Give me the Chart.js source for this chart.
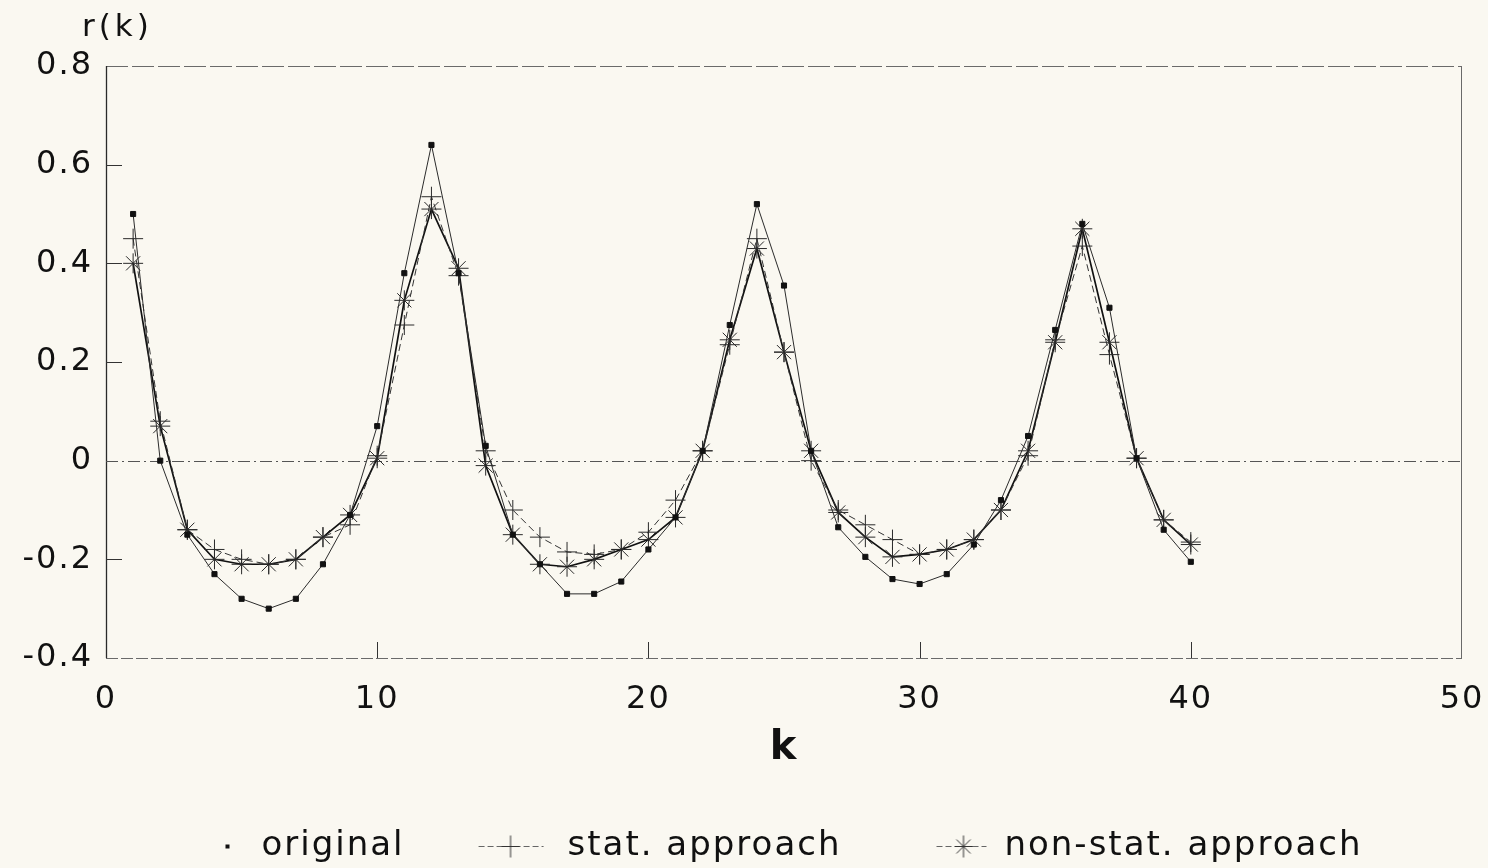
<!DOCTYPE html>
<html>
<head>
<meta charset="utf-8">
<script src="https://cdn.jsdelivr.net/npm/chart.js@4.4.1/dist/chart.umd.min.js"></script>
<style>
  html, body { margin: 0; padding: 0; background: #faf8f1; }
  canvas { display: block; }
</style>
</head>
<body>
<canvas id="c" width="1488" height="868"></canvas>
<script>
// ---------------- data ----------------
const lags = [1, 2, 3, 4, 5, 6, 7, 8, 9, 10, 11, 12, 13, 14, 15, 16, 17, 18, 19, 20,
              21, 22, 23, 24, 25, 26, 27, 28, 29, 30, 31, 32, 33, 34, 35, 36, 37, 38, 39, 40];

const original = [0.50, 0.00, -0.15, -0.23, -0.28, -0.30, -0.28, -0.21, -0.11, 0.07,
                  0.38, 0.64, 0.38, 0.03, -0.15, -0.21, -0.27, -0.27, -0.245, -0.18,
                  -0.115, 0.02, 0.275, 0.52, 0.355, 0.02, -0.135, -0.195, -0.24, -0.25,
                  -0.23, -0.17, -0.08, 0.05, 0.265, 0.48, 0.31, 0.005, -0.14, -0.205];

const statApproach = [0.45, 0.08, -0.14, -0.18, -0.20, -0.21, -0.20, -0.155, -0.13, 0.01,
                      0.275, 0.535, 0.375, 0.02, -0.10, -0.155, -0.185, -0.19, -0.18, -0.145,
                      -0.08, 0.02, 0.235, 0.45, 0.22, 0.00, -0.10, -0.13, -0.16, -0.19,
                      -0.18, -0.16, -0.10, 0.01, 0.245, 0.435, 0.215, 0.005, -0.12, -0.165];

const nonStatApproach = [0.40, 0.07, -0.14, -0.20, -0.21, -0.21, -0.20, -0.155, -0.11, 0.005,
                         0.325, 0.51, 0.39, -0.01, -0.15, -0.21, -0.215, -0.20, -0.18, -0.16,
                         -0.115, 0.02, 0.245, 0.43, 0.22, 0.02, -0.105, -0.155, -0.195, -0.19,
                         -0.18, -0.16, -0.10, 0.02, 0.24, 0.47, 0.24, 0.005, -0.12, -0.17];

const seriesLabels = ['original', 'stat. approach', 'non-stat. approach'];

const xTickValues = [0, 10, 20, 30, 40, 50];
const xTickLabels = ['0', '10', '20', '30', '40', '50'];
const yTickValues = [-0.4, -0.2, 0, 0.2, 0.4, 0.6, 0.8];
const yTickLabels = ['-0.4', '-0.2', '0', '0.2', '0.4', '0.6', '0.8'];

const xAxisTitle = 'k';
const yAxisTitle = 'r(k)';

// ---------------- styling ----------------
const FONT = "'DejaVu Sans', 'Liberation Sans', sans-serif";
const INK = '#111111';
const SYMBOL_W = 145;

function makeSymbol(kind, lineFrom, lineTo, cx) {
  const c = document.createElement('canvas');
  c.width = SYMBOL_W; c.height = 30;
  const g = c.getContext('2d');
  const cy = 15.5;
  if (lineTo > lineFrom) {
    g.strokeStyle = '#666';
    g.lineWidth = 1;
    g.setLineDash([6, 3]);
    g.beginPath(); g.moveTo(lineFrom, cy); g.lineTo(lineTo, cy); g.stroke();
    g.setLineDash([]);
  }
  g.strokeStyle = '#333';
  g.lineWidth = 1;
  if (kind === 'rect') {
    g.fillStyle = '#111';
    g.fillRect(cx - 2, cy - 2, 4, 4);
  }
  if (kind === 'cross' || kind === 'star') {
    g.beginPath();
    g.moveTo(cx - 9, cy); g.lineTo(cx + 9, cy);
    g.moveTo(cx, cy - 11); g.lineTo(cx, cy + 11);
    g.stroke();
  }
  if (kind === 'star') {
    g.beginPath();
    g.moveTo(cx - 7, cy - 7); g.lineTo(cx + 7, cy + 7);
    g.moveTo(cx + 7, cy - 7); g.lineTo(cx - 7, cy + 7);
    g.stroke();
  }
  return c;
}

const legendSymbols = [
  makeSymbol('rect', 0, 0, 128),
  makeSymbol('cross', 73, 138, 105),
  makeSymbol('star', 94, 144, 121)
];

const spacingPlugin = {
  id: 'spacing',
  beforeUpdate(chart) { chart.ctx.letterSpacing = '2px'; },
  beforeLayout(chart) { chart.ctx.letterSpacing = '2px'; },
  beforeDraw(chart) { chart.ctx.letterSpacing = '2px'; }
};

const framePlugin = {
  id: 'frame',
  beforeDatasetsDraw(chart) {
    const { ctx, chartArea: a, scales: { x, y } } = chart;
    ctx.save();
    ctx.letterSpacing = '0px';
    // top border (broken line)
    ctx.strokeStyle = '#6a6a6a'; ctx.lineWidth = 1;
    ctx.setLineDash([22, 4]);
    ctx.beginPath(); ctx.moveTo(a.left, a.top + 0.5); ctx.lineTo(a.right, a.top + 0.5); ctx.stroke();
    // bottom border (broken line)
    ctx.setLineDash([12, 3]);
    ctx.beginPath(); ctx.moveTo(a.left, a.bottom + 0.5); ctx.lineTo(a.right, a.bottom + 0.5); ctx.stroke();
    ctx.setLineDash([]);
    // left axis
    ctx.strokeStyle = '#2a2a2a'; ctx.lineWidth = 1.3;
    ctx.beginPath(); ctx.moveTo(a.left + 0.5, a.top); ctx.lineTo(a.left + 0.5, a.bottom); ctx.stroke();
    // right border
    ctx.strokeStyle = '#6a6a6a'; ctx.lineWidth = 1;
    ctx.beginPath(); ctx.moveTo(a.right - 0.5, a.top); ctx.lineTo(a.right - 0.5, a.bottom); ctx.stroke();
    // zero reference line (dash-dot)
    const y0 = Math.round(y.getPixelForValue(0)) + 0.5;
    ctx.strokeStyle = '#555'; ctx.lineWidth = 1;
    ctx.setLineDash([12, 4, 2, 4]);
    ctx.beginPath(); ctx.moveTo(a.left, y0); ctx.lineTo(a.right, y0); ctx.stroke();
    ctx.setLineDash([]);
    // inside tick marks
    ctx.strokeStyle = '#333'; ctx.lineWidth = 1;
    xTickValues.forEach(v => {
      if (v === x.min || v === x.max) return;
      const px = Math.round(x.getPixelForValue(v)) + 0.5;
      ctx.beginPath(); ctx.moveTo(px, a.bottom); ctx.lineTo(px, a.bottom - 16); ctx.stroke();
    });
    yTickValues.forEach(v => {
      if (v === y.min || v === y.max || v === 0) return;
      const py = Math.round(y.getPixelForValue(v)) + 0.5;
      ctx.beginPath(); ctx.moveTo(a.left, py); ctx.lineTo(a.left + 16, py); ctx.stroke();
    });
    ctx.restore();
  },
  afterDraw(chart) {
    const { ctx, chartArea: a } = chart;
    ctx.save();
    ctx.letterSpacing = '4px';
    ctx.font = "31px " + FONT;
    ctx.fillStyle = INK;
    ctx.textAlign = 'left';
    ctx.textBaseline = 'alphabetic';
    ctx.fillText(yAxisTitle, a.left - 24, a.top - 30);
    ctx.restore();
  }
};

const toPoints = arr => lags.map((k, i) => ({ x: k, y: arr[i] }));

new Chart(document.getElementById('c'), {
  type: 'line',
  data: {
    datasets: [
      {
        label: seriesLabels[0],
        data: toPoints(original),
        borderColor: '#2b2b2b', borderWidth: 1,
        pointStyle: 'rect', pointRadius: 3.6, pointBorderWidth: 1,
        pointBackgroundColor: '#111', pointBorderColor: '#111',
        tension: 0, fill: false
      },
      {
        label: seriesLabels[1],
        data: toPoints(statApproach),
        borderColor: '#333', borderWidth: 1, borderDash: [7, 4],
        pointStyle: 'cross', pointRadius: 10, pointBorderWidth: 1,
        pointBorderColor: '#2a2a2a', pointBackgroundColor: '#2a2a2a',
        tension: 0, fill: false
      },
      {
        label: seriesLabels[2],
        data: toPoints(nonStatApproach),
        borderColor: '#111', borderWidth: 1.7,
        pointStyle: 'star', pointRadius: 10, pointBorderWidth: 1,
        pointBorderColor: '#2a2a2a', pointBackgroundColor: '#2a2a2a',
        tension: 0, fill: false
      }
    ]
  },
  options: {
    responsive: false,
    animation: false,
    devicePixelRatio: 1,
    layout: { padding: { top: 66, right: 26, left: 0, bottom: -5 } },
    font: { family: FONT },
    scales: {
      x: {
        type: 'linear', min: 0, max: 50,
        afterBuildTicks: s => { s.ticks = xTickValues.map(v => ({ value: v })); },
        afterFit: s => { s.height = 170; },
        ticks: {
          callback: (v, i) => xTickLabels[i],
          font: { family: FONT, size: 32 }, color: INK,
          padding: 3, maxRotation: 0, autoSkip: false
        },
        grid: { display: false, drawTicks: true, tickLength: 19 },
        border: { display: false },
        title: {
          display: true, text: xAxisTitle, color: INK,
          font: { family: FONT, size: 40, weight: 'bold' },
          padding: { top: 0, bottom: 55 }
        }
      },
      y: {
        type: 'linear', min: -0.4, max: 0.8,
        afterBuildTicks: s => { s.ticks = yTickValues.map(v => ({ value: v })); },
        afterFit: s => { s.width = 106; },
        ticks: {
          callback: (v, i) => yTickLabels[i],
          font: { family: FONT, size: 32 }, color: INK,
          padding: 13, autoSkip: false
        },
        grid: { display: false, drawTicks: false },
        border: { display: false }
      }
    },
    plugins: {
      legend: {
        position: 'bottom',
        labels: {
          usePointStyle: true,
          pointStyleWidth: SYMBOL_W,
          padding: 1,
          color: INK,
          font: { family: FONT, size: 34 },
          generateLabels: chart => chart.data.datasets.map((ds, i) => ({
            text: ds.label,
            pointStyle: legendSymbols[i],
            datasetIndex: i,
            hidden: false,
            fillStyle: 'transparent',
            strokeStyle: 'transparent',
            lineWidth: 0,
            fontColor: INK
          }))
        }
      },
      tooltip: { enabled: false },
      title: { display: false }
    }
  },
  plugins: [spacingPlugin, framePlugin]
});
</script>
</body>
</html>
